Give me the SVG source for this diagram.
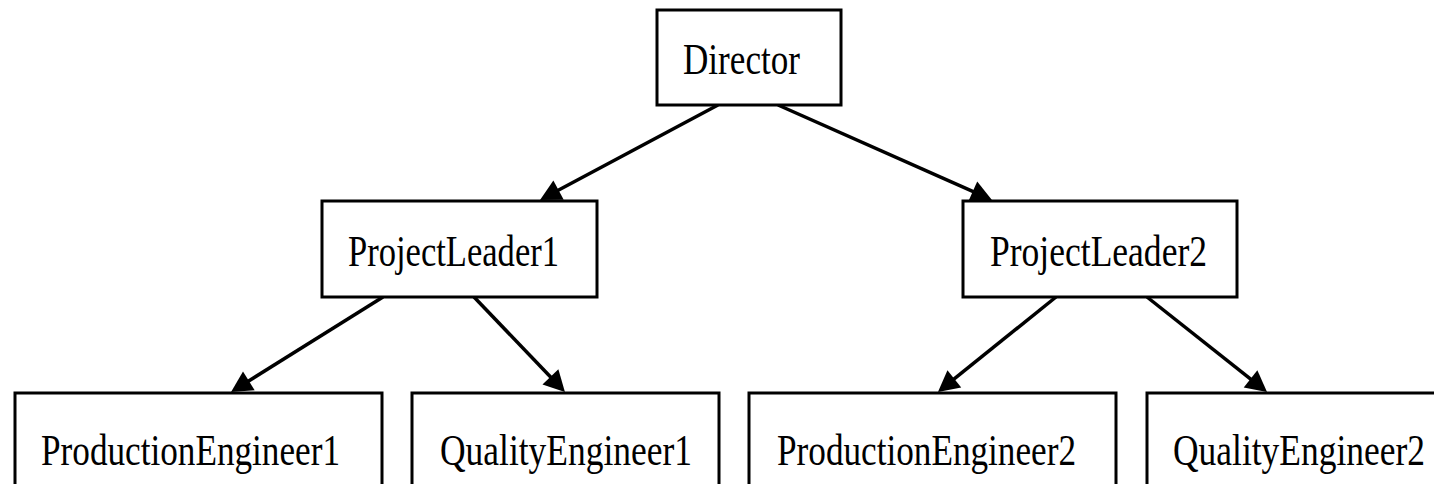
<svg xmlns="http://www.w3.org/2000/svg" width="1434" height="484" viewBox="0 0 1434 484">
<style>
.box{fill:#fff;stroke:#000;stroke-width:3}
.lbl{font-family:"Liberation Serif","Times New Roman",serif;font-size:44px;fill:#000}
.edge{stroke:#000;stroke-width:3.5;fill:none}
</style>
<defs>
<marker id="arr" markerUnits="userSpaceOnUse" markerWidth="24" markerHeight="24" refX="3" refY="10" orient="auto" overflow="visible">
<path d="M0,-1 L21,10 L0,21 z" fill="#000"/>
</marker>
</defs>
<rect width="1434" height="484" fill="#fff"/>
<g id="connectors">
<line class="edge" x1="718" y1="105" x2="555.9" y2="191.5" marker-end="url(#arr)"/>
<line class="edge" x1="778" y1="105" x2="975.5" y2="192.7" marker-end="url(#arr)"/>
<line class="edge" x1="383" y1="297" x2="246.3" y2="382.5" marker-end="url(#arr)"/>
<line class="edge" x1="474" y1="297" x2="552.5" y2="379" marker-end="url(#arr)"/>
<line class="edge" x1="1056" y1="297" x2="952" y2="380.7" marker-end="url(#arr)"/>
<line class="edge" x1="1147" y1="297" x2="1252.9" y2="380.8" marker-end="url(#arr)"/>
</g>
<g id="Director">
<rect class="box" x="657" y="10" width="184" height="95"/>
<text class="lbl" x="683" y="74" textLength="117" lengthAdjust="spacingAndGlyphs">Director</text>
</g>
<g id="ProjectLeader1">
<rect class="box" x="322" y="201" width="275" height="96"/>
<text class="lbl" x="348" y="266" textLength="211" lengthAdjust="spacingAndGlyphs">ProjectLeader1</text>
</g>
<g id="ProjectLeader2">
<rect class="box" x="963" y="201" width="274" height="96"/>
<text class="lbl" x="990" y="266" textLength="217" lengthAdjust="spacingAndGlyphs">ProjectLeader2</text>
</g>
<g id="ProductionEngineer1">
<rect class="box" x="15" y="393" width="367" height="120"/>
<text class="lbl" x="41" y="465" textLength="299" lengthAdjust="spacingAndGlyphs">ProductionEngineer1</text>
</g>
<g id="QualityEngineer1">
<rect class="box" x="412" y="393" width="307" height="120"/>
<text class="lbl" x="440" y="465" textLength="252" lengthAdjust="spacingAndGlyphs">QualityEngineer1</text>
</g>
<g id="ProductionEngineer2">
<rect class="box" x="749" y="393" width="367" height="120"/>
<text class="lbl" x="777" y="465" textLength="299" lengthAdjust="spacingAndGlyphs">ProductionEngineer2</text>
</g>
<g id="QualityEngineer2">
<rect class="box" x="1147" y="393" width="300" height="120"/>
<text class="lbl" x="1173" y="465" textLength="252" lengthAdjust="spacingAndGlyphs">QualityEngineer2</text>
</g>
</svg>
